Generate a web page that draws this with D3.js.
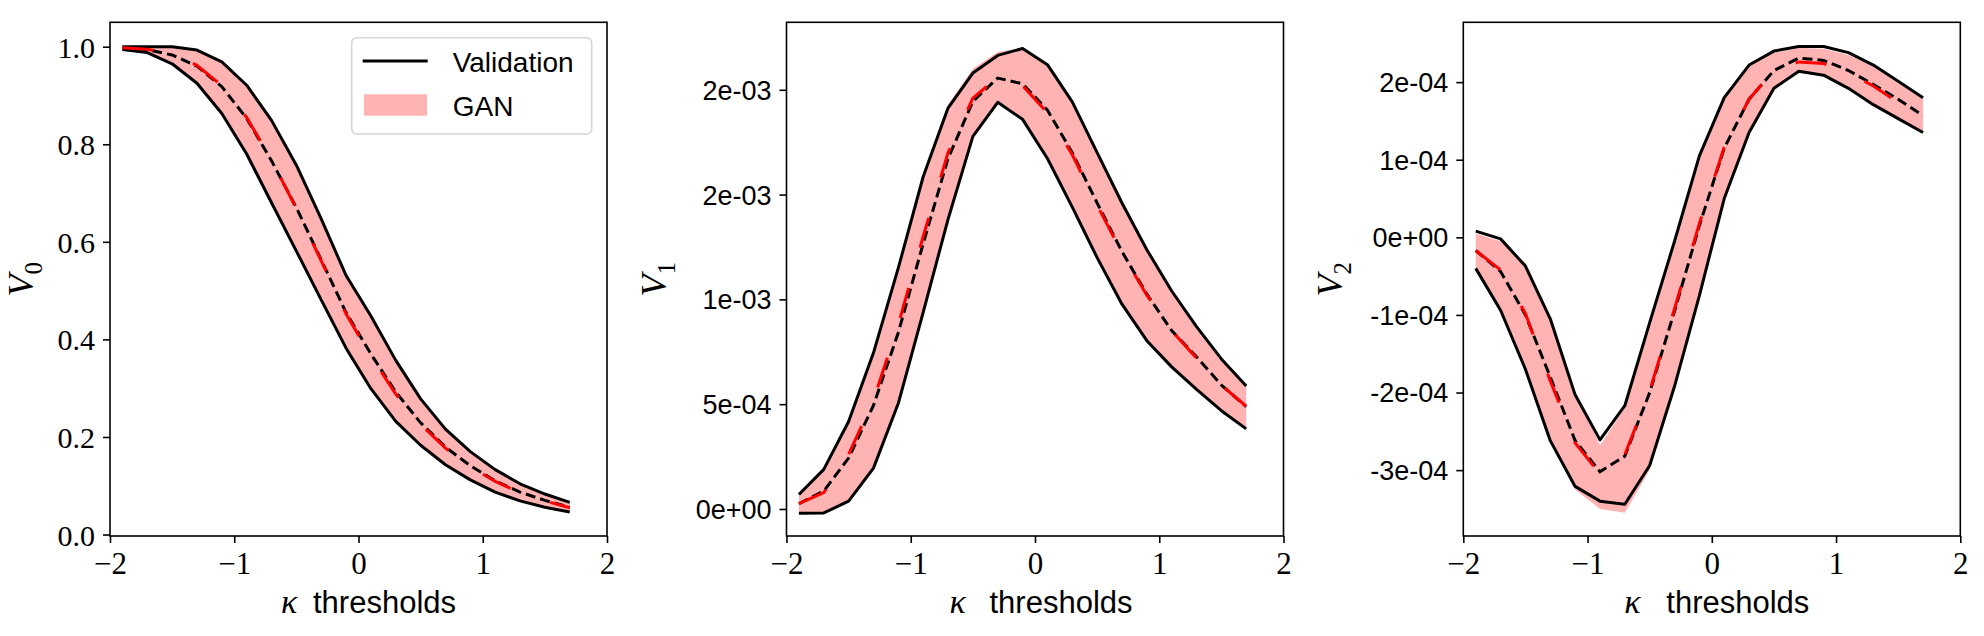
<!DOCTYPE html>
<html>
<head>
<meta charset="utf-8">
<script src="https://cdn.jsdelivr.net/npm/d3@7"></script>
<style>
  html, body { margin: 0; padding: 0; background: #fff; }
  svg { display: block; }
  .tick line { stroke: #000; stroke-width: 1.6px; }
</style>
</head>
<body>
<div id="chart"></div>
<script>
// kappa thresholds (x positions of the sampled points)
var kappa = [-1.9, -1.7, -1.5, -1.3, -1.1, -0.9, -0.7, -0.5, -0.3, -0.1,
             0.1, 0.3, 0.5, 0.7, 0.9, 1.1, 1.3, 1.5, 1.7];

// V0
var v0ValUpper = [1.0, 1.0, 1.0, 0.993, 0.969, 0.921, 0.849, 0.757, 0.647, 0.531,
                  0.448, 0.357, 0.278, 0.216, 0.170, 0.133, 0.104, 0.083, 0.066];
var v0ValLower = [0.994, 0.988, 0.965, 0.925, 0.863, 0.780, 0.680, 0.581, 0.481, 0.382,
                  0.299, 0.232, 0.183, 0.143, 0.112, 0.087, 0.069, 0.056, 0.046];
var v0ValMean  = [0.997, 0.994, 0.983, 0.960, 0.918, 0.853, 0.766, 0.670, 0.563, 0.455,
                  0.370, 0.292, 0.229, 0.179, 0.141, 0.110, 0.087, 0.070, 0.056];
var v0GanUpper = [1.0, 1.0, 0.999, 0.992, 0.968, 0.920, 0.848, 0.756, 0.646, 0.530,
                  0.447, 0.356, 0.277, 0.215, 0.169, 0.132, 0.103, 0.082, 0.065];
var v0GanLower = [0.995, 0.989, 0.966, 0.926, 0.864, 0.781, 0.681, 0.582, 0.482, 0.383,
                  0.300, 0.233, 0.184, 0.144, 0.113, 0.088, 0.070, 0.057, 0.047];
var v0GanMean  = [0.998, 0.995, 0.984, 0.962, 0.920, 0.855, 0.768, 0.668, 0.561, 0.452,
                  0.366, 0.288, 0.226, 0.177, 0.139, 0.109, 0.086, 0.069, 0.055];

// V1
var v1ValUpper = [0.069e-3, 0.189e-3, 0.417e-3, 0.745e-3, 1.150e-3, 1.585e-3, 1.913e-3, 2.080e-3, 2.164e-3, 2.197e-3,
                  2.120e-3, 1.942e-3, 1.700e-3, 1.460e-3, 1.237e-3, 1.040e-3, 0.870e-3, 0.716e-3, 0.587e-3];
var v1ValLower = [-0.020e-3, -0.019e-3, 0.037e-3, 0.195e-3, 0.504e-3, 0.938e-3, 1.382e-3, 1.778e-3, 1.940e-3, 1.859e-3,
                  1.672e-3, 1.440e-3, 1.199e-3, 0.977e-3, 0.803e-3, 0.678e-3, 0.571e-3, 0.469e-3, 0.382e-3];
var v1ValMean  = [0.025e-3, 0.085e-3, 0.243e-3, 0.494e-3, 0.842e-3, 1.266e-3, 1.672e-3, 1.945e-3, 2.056e-3, 2.029e-3,
                  1.903e-3, 1.700e-3, 1.460e-3, 1.228e-3, 1.025e-3, 0.851e-3, 0.726e-3, 0.591e-3, 0.488e-3];
var v1GanUpper = [0.069e-3, 0.190e-3, 0.420e-3, 0.750e-3, 1.160e-3, 1.600e-3, 1.930e-3, 2.100e-3, 2.180e-3, 2.200e-3,
                  2.120e-3, 1.940e-3, 1.700e-3, 1.460e-3, 1.240e-3, 1.040e-3, 0.870e-3, 0.720e-3, 0.590e-3];
var v1GanLower = [-0.020e-3, -0.017e-3, 0.040e-3, 0.200e-3, 0.500e-3, 0.940e-3, 1.380e-3, 1.780e-3, 1.940e-3, 1.860e-3,
                  1.670e-3, 1.440e-3, 1.200e-3, 0.980e-3, 0.800e-3, 0.680e-3, 0.570e-3, 0.470e-3, 0.380e-3];
var v1GanMean  = [0.025e-3, 0.078e-3, 0.260e-3, 0.520e-3, 0.880e-3, 1.300e-3, 1.700e-3, 1.960e-3, 2.060e-3, 2.020e-3,
                  1.890e-3, 1.690e-3, 1.450e-3, 1.220e-3, 1.020e-3, 0.850e-3, 0.720e-3, 0.590e-3, 0.490e-3];

// V2
var v2ValUpper = [0.08e-4, -0.02e-4, -0.37e-4, -1.05e-4, -2.03e-4, -2.61e-4, -2.17e-4, -1.10e-4, -0.05e-4, 1.05e-4,
                  1.80e-4, 2.22e-4, 2.40e-4, 2.46e-4, 2.46e-4, 2.38e-4, 2.22e-4, 2.01e-4, 1.80e-4];
var v2ValLower = [-0.40e-4, -0.94e-4, -1.70e-4, -2.62e-4, -3.21e-4, -3.40e-4, -3.44e-4, -2.94e-4, -1.92e-4, -0.75e-4,
                  0.50e-4, 1.35e-4, 1.92e-4, 2.14e-4, 2.09e-4, 1.92e-4, 1.71e-4, 1.53e-4, 1.35e-4];
var v2ValMean  = [-0.17e-4, -0.44e-4, -1.00e-4, -1.80e-4, -2.62e-4, -3.02e-4, -2.82e-4, -2.00e-4, -0.95e-4, 0.15e-4,
                  1.15e-4, 1.78e-4, 2.15e-4, 2.31e-4, 2.28e-4, 2.15e-4, 1.97e-4, 1.78e-4, 1.57e-4];
var v2GanUpper = [0.05e-4, -0.05e-4, -0.33e-4, -1.02e-4, -2.00e-4, -2.68e-4, -2.20e-4, -1.08e-4, -0.02e-4, 1.06e-4,
                  1.80e-4, 2.20e-4, 2.38e-4, 2.44e-4, 2.43e-4, 2.35e-4, 2.20e-4, 1.99e-4, 1.78e-4];
var v2GanLower = [-0.38e-4, -0.92e-4, -1.68e-4, -2.62e-4, -3.25e-4, -3.50e-4, -3.55e-4, -3.00e-4, -1.95e-4, -0.75e-4,
                  0.50e-4, 1.36e-4, 1.92e-4, 2.12e-4, 2.08e-4, 1.92e-4, 1.72e-4, 1.53e-4, 1.36e-4];
var v2GanMean  = [-0.17e-4, -0.42e-4, -0.98e-4, -1.85e-4, -2.65e-4, -3.05e-4, -2.80e-4, -1.98e-4, -0.92e-4, 0.18e-4,
                  1.16e-4, 1.78e-4, 2.15e-4, 2.26e-4, 2.24e-4, 2.12e-4, 1.95e-4, 1.74e-4, 1.55e-4];

// tick values and labels
var xTicks = [-2, -1, 0, 1, 2];
var xTickLabels = ["\u22122", "\u22121", "0", "1", "2"];
var v0Ticks = [0, 0.2, 0.4, 0.6, 0.8, 1.0];
var v0TickLabels = ["0.0", "0.2", "0.4", "0.6", "0.8", "1.0"];
var v1Ticks = [0, 5e-4, 1e-3, 1.5e-3, 2e-3];
var v1TickLabels = ["0e+00", "5e-04", "1e-03", "2e-03", "2e-03"];
var v2Ticks = [-3e-4, -2e-4, -1e-4, 0, 1e-4, 2e-4];
var v2TickLabels = ["-3e-04", "-2e-04", "-1e-04", "0e+00", "1e-04", "2e-04"];

var seriesNames = ["Validation", "GAN"];

(function () {
    "use strict";

    var vWidth = 1984, vHeight = 636;
    var vTop = 22.3, vBottom = 536, vPlotW = 497;
    var cSans = "'Liberation Sans', Arial, sans-serif";
    var cSerif = "'Liberation Serif', 'Times New Roman', serif";
    var cPink = "rgb(255,179,179)";

    var svg = d3.select("#chart")
        .append("svg")
        .attr("width", vWidth)
        .attr("height", vHeight);

    var vPanels = [
        { left: 110, domain: [-0.003, 1.050], ticks: v0Ticks, labels: v0TickLabels, tickFont: cSerif, tickSize: 30,
          sub: "0", labelX: 33, kappaX: 171,
          valUpper: v0ValUpper, valLower: v0ValLower, valMean: v0ValMean,
          ganUpper: v0GanUpper, ganLower: v0GanLower, ganMean: v0GanMean },
        { left: 786.5, domain: [-0.129e-3, 2.322e-3], ticks: v1Ticks, labels: v1TickLabels, tickFont: cSans, tickSize: 27,
          sub: "1", labelX: 665.5, kappaX: 163,
          valUpper: v1ValUpper, valLower: v1ValLower, valMean: v1ValMean,
          ganUpper: v1GanUpper, ganLower: v1GanLower, ganMean: v1GanMean },
        { left: 1463.3, domain: [-3.849e-4, 2.771e-4], ticks: v2Ticks, labels: v2TickLabels, tickFont: cSans, tickSize: 27,
          sub: "2", labelX: 1342, kappaX: 161,
          valUpper: v2ValUpper, valLower: v2ValLower, valMean: v2ValMean,
          ganUpper: v2GanUpper, ganLower: v2GanLower, ganMean: v2GanMean }
    ];

    vPanels.forEach(function (aPanel) {
        var xScale = d3.scaleLinear().domain([-2, 2]).range([aPanel.left, aPanel.left + vPlotW]);
        var yScale = d3.scaleLinear().domain(aPanel.domain).range([vBottom, vTop]);

        var g = svg.append("g");

        // GAN band
        var band = d3.area()
            .x(function (d, i) { return xScale(kappa[i]); })
            .y0(function (d, i) { return yScale(aPanel.ganLower[i]); })
            .y1(function (d, i) { return yScale(aPanel.ganUpper[i]); });
        g.append("path")
            .attr("d", band(kappa))
            .attr("fill", cPink);

        var makeLine = function (aValues) {
            return d3.line()
                .x(function (d, i) { return xScale(kappa[i]); })
                .y(function (d, i) { return yScale(aValues[i]); })(kappa);
        };

        // validation bounds
        [aPanel.valUpper, aPanel.valLower].forEach(function (aValues) {
            g.append("path")
                .attr("d", makeLine(aValues))
                .attr("fill", "none")
                .attr("stroke", "#000")
                .attr("stroke-width", 3)
                .attr("stroke-linejoin", "round");
        });

        // means
        g.append("path")
            .attr("d", makeLine(aPanel.valMean))
            .attr("fill", "none")
            .attr("stroke", "#000")
            .attr("stroke-width", 3)
            .attr("stroke-dasharray", "10,5");
        g.append("path")
            .attr("d", makeLine(aPanel.ganMean))
            .attr("fill", "none")
            .attr("stroke", "#ff0000")
            .attr("stroke-width", 3)
            .attr("stroke-dasharray", "31,42");

        // frame
        g.append("rect")
            .attr("x", aPanel.left)
            .attr("y", vTop)
            .attr("width", vPlotW)
            .attr("height", vBottom - vTop)
            .attr("fill", "none")
            .attr("stroke", "#000")
            .attr("stroke-width", 1.6);

        // x axis
        var xAxis = g.append("g")
            .attr("transform", "translate(0," + vBottom + ")")
            .call(d3.axisBottom(xScale)
                .tickValues(xTicks)
                .tickFormat(function (d, i) { return xTickLabels[i]; })
                .tickSize(7)
                .tickSizeOuter(0));
        xAxis.select(".domain").remove();
        xAxis.selectAll("text")
            .attr("y", 38)
            .attr("dy", null)
            .attr("fill", "#000")
            .style("font-family", cSerif)
            .style("font-size", "31px");

        // y axis
        var yAxis = g.append("g")
            .attr("transform", "translate(" + aPanel.left + ",0)")
            .call(d3.axisLeft(yScale)
                .tickValues(aPanel.ticks)
                .tickFormat(function (d, i) { return aPanel.labels[i]; })
                .tickSize(7)
                .tickSizeOuter(0));
        yAxis.select(".domain").remove();
        yAxis.selectAll("text")
            .attr("x", -15)
            .attr("dy", "0.35em")
            .attr("fill", "#000")
            .style("font-family", aPanel.tickFont)
            .style("font-size", aPanel.tickSize + "px");

        // y label
        var yLabel = g.append("text")
            .attr("transform", "translate(" + aPanel.labelX + "," + ((vTop + vBottom) / 2) + ") rotate(-90)")
            .attr("text-anchor", "middle")
            .style("font-family", cSerif)
            .style("font-size", "36px");
        yLabel.append("tspan").style("font-style", "italic").text("V");
        yLabel.append("tspan").attr("dy", 9).style("font-size", "25px").text(aPanel.sub);

        // x label
        g.append("text")
            .attr("x", aPanel.left + aPanel.kappaX)
            .attr("y", 613)
            .style("font-family", cSerif)
            .style("font-style", "italic")
            .style("font-size", "34px")
            .text("\u03ba");
        g.append("text")
            .attr("x", aPanel.left + 203)
            .attr("y", 613)
            .style("font-family", cSans)
            .style("font-size", "31px")
            .text("thresholds");
    });

    // legend in the first panel
    var legend = svg.append("g");
    legend.append("rect")
        .attr("x", 351.7).attr("y", 37.7)
        .attr("width", 240).attr("height", 96.3)
        .attr("rx", 5)
        .attr("fill", "#fff")
        .attr("fill-opacity", 0.8)
        .attr("stroke", "#d6d6d6")
        .attr("stroke-width", 1.6);
    legend.append("line")
        .attr("x1", 362.7).attr("x2", 427.7)
        .attr("y1", 61).attr("y2", 61)
        .attr("stroke", "#000")
        .attr("stroke-width", 3);
    legend.append("rect")
        .attr("x", 364).attr("y", 94.3)
        .attr("width", 63).attr("height", 21.4)
        .attr("fill", cPink);
    legend.selectAll("text.entry")
        .data(seriesNames)
        .enter()
        .append("text")
        .attr("class", "entry")
        .attr("x", 452.7)
        .attr("y", function (d, i) { return i === 0 ? 71.7 : 115.7; })
        .style("font-family", cSans)
        .style("font-size", "28px")
        .text(function (d) { return d; });
})();
</script>
</body>
</html>
